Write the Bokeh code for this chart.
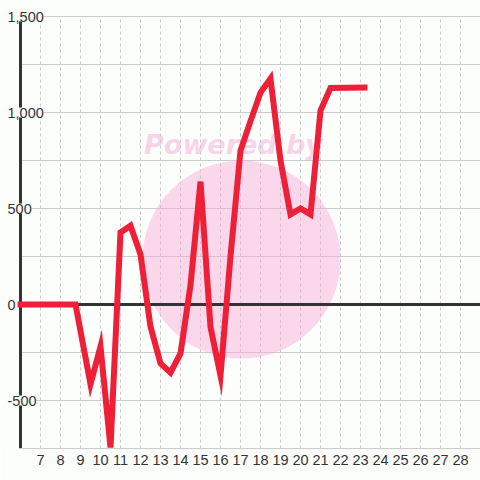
from bokeh.plotting import figure
from bokeh.models import Label, FixedTicker
from bokeh.embed import file_html
from bokeh.resources import INLINE

# ---- data ----
x_vals = [6, 8.75, 9.5, 10, 10.5, 11, 11.5, 12, 12.5, 13, 13.5, 14, 14.5, 15,
          15.5, 16, 16.5, 17, 17.5, 18, 18.5, 19, 19.5, 20, 20.5, 21, 21.5, 23.2]
y_vals = [0, 0, -415, -219, -745, 375, 410, 260, -115, -307, -355, -255, 100, 640,
          -118, -370, 250, 802, 955, 1104, 1177, 750, 469, 500, 469, 1010, 1128, 1130]
x_ticks = list(range(7, 29))
y_label_ticks = [1500, 1000, 500, 0, -500]
y_grid_ticks = [-500, -250, 250, 500, 750, 1000, 1250, 1500]

X_MIN, X_MAX = 6, 29
Y_MIN, Y_MAX = -750, 1500
Y_PAD = 16 * (Y_MAX - Y_MIN) / 432   # room above the top tick for its label
BG = "#fcfefc"
FONT = "Liberation Sans"

# the frame extends one unit left of the axis (and a little above the top tick),
# so the y labels can sit there without being clipped
p = figure(width=480, height=480, x_range=(X_MIN - 1, X_MAX), y_range=(Y_MIN, Y_MAX + Y_PAD),
           output_backend="svg", toolbar_location=None, y_axis_location=None,
           min_border_left=0, min_border_right=0, min_border_top=0, min_border_bottom=32,
           background_fill_color=BG, border_fill_color=BG, outline_line_color=None)

p.xgrid.visible = False
p.ygrid.visible = False

# vertical dashed grid lines
p.segment(x0=x_ticks, x1=x_ticks, y0=[Y_MIN] * len(x_ticks), y1=[Y_MAX] * len(x_ticks),
          line_color="#c8c8c8", line_width=1, line_dash="3 3")
# horizontal grid lines, from the axis to the right edge
p.segment(x0=[X_MIN] * len(y_grid_ticks), x1=[X_MAX] * len(y_grid_ticks),
          y0=y_grid_ticks, y1=y_grid_ticks, line_color="#cccccc", line_width=1)

# x axis
p.xaxis.ticker = FixedTicker(ticks=x_ticks)
p.xaxis.bounds = (X_MIN, X_MAX)
p.xaxis.axis_line_color = "#cccccc"
p.xaxis.axis_line_width = 1
p.xaxis.major_tick_line_color = None
p.xaxis.minor_tick_line_color = None
p.xaxis.major_tick_out = 0
p.xaxis.major_tick_in = 0
p.xaxis.major_label_standoff = 6
p.xaxis.major_label_text_font = FONT
p.xaxis.major_label_text_font_size = "14.5px"
p.xaxis.major_label_text_color = "#333333"

# watermark
p.scatter(x=[17.05], y=[234], size=198, marker="circle", fill_color="#f8a8d4",
          fill_alpha=0.45, line_color=None)
p.add_layout(Label(x=16.65, y=833, text="Powered by", text_align="center",
                   text_baseline="alphabetic", text_font="DejaVu Sans", text_font_size="27px",
                   text_font_style="bold italic", text_color="#f9cde6", text_alpha=0.85,
                   level="underlay"))

# y axis line and zero line
p.segment(x0=[X_MIN], x1=[X_MIN], y0=[Y_MIN], y1=[Y_MAX], line_color="#333333", line_width=3)
p.segment(x0=[X_MIN], x1=[X_MAX], y0=[0], y1=[0], line_color="#333333", line_width=3)

# series
p.line(x_vals, y_vals, line_color="#ee1f36", line_width=6,
       line_join="miter", line_cap="square")

# y labels (drawn over the axis line, with a background box)
for v in y_label_ticks:
    p.add_layout(Label(x=X_MIN, y=v, x_offset=-13, text=f"{v:,}", text_align="left",
                       text_baseline="middle", text_font=FONT, text_font_size="14.5px",
                       text_color="#333333", background_fill_color=BG))

open("out.html", "w").write(file_html(p, INLINE))
